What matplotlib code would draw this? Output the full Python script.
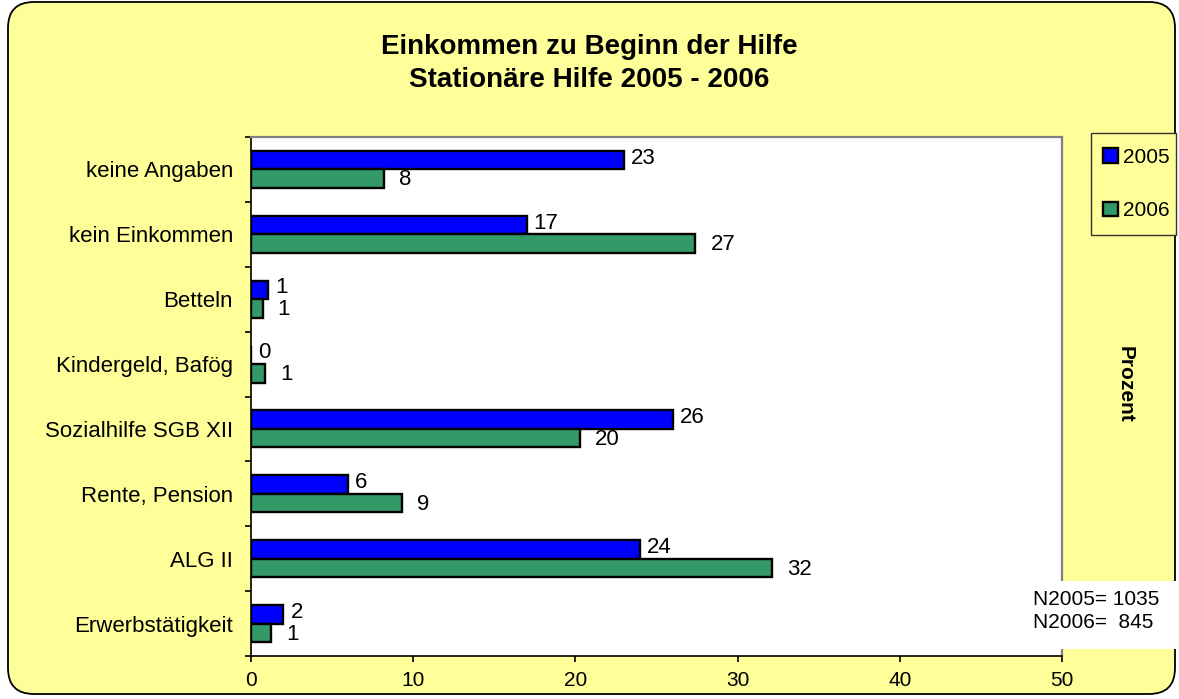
import matplotlib
matplotlib.use("Agg")
import matplotlib.pyplot as plt
from matplotlib.patches import FancyBboxPatch, Rectangle
from matplotlib.transforms import offset_copy
import numpy as np

plt.rcParams['font.family'] = ['Liberation Sans', 'DejaVu Sans']

categories = ["keine Angaben", "kein Einkommen", "Betteln", "Kindergeld, Bafög",
              "Sozialhilfe SGB XII", "Rente, Pension", "ALG II", "Erwerbstätigkeit"]
values_2005 = [23.0, 17.0, 1.05, 0.0, 26.0, 6.0, 24.0, 2.0]
values_2006 = [8.2, 27.4, 0.72, 0.86, 20.26, 9.29, 32.1, 1.23]
series_names = ["2005", "2006"]
xticks = [0, 10, 20, 30, 40, 50]
title_lines = ["Einkommen zu Beginn der Hilfe", "Stationäre Hilfe 2005 - 2006"]
n_text = "N2005= 1035\nN2006=  845"

YELLOW = "#FFFF99"
BLUE = "#0000FF"
GREEN = "#339966"

W, H = 1179, 699
fig = plt.figure(figsize=(W / 100, H / 100), dpi=100)
fig.patch.set_facecolor("white")

# rounded chart frame
frame = FancyBboxPatch((8 / W, 5 / H), (1175 - 8) / W, (697 - 5) / H,
                       boxstyle="round,pad=0,rounding_size=0.022",
                       transform=fig.transFigure, facecolor=YELLOW,
                       edgecolor="black", linewidth=1.3, mutation_aspect=W / H,
                       zorder=-5)
fig.patches.append(frame)

ax = fig.add_axes([251 / W, 1 - 656 / H, (1062 - 251) / W, (656 - 137) / H])
ax.set_facecolor("white")
ax.set_zorder(2)

y = np.arange(len(categories))
bh = 0.285
b1 = ax.barh(y - bh / 2, values_2005, height=bh, color=BLUE, edgecolor="black",
             linewidth=1.7, label=series_names[0])
b2 = ax.barh(y + bh / 2, values_2006, height=bh, color=GREEN, edgecolor="black",
             linewidth=1.7, label=series_names[1])

ax.set_xlim(0, 50)
ax.set_ylim(len(categories) - 0.5, -0.5)
ax.set_xticks(xticks)
ax.set_xticklabels([str(t) for t in xticks], fontsize=15)
ax.set_yticks(y)
ax.set_yticklabels(categories, fontsize=16)
ax.tick_params(axis='y', which='major', length=0, pad=13)
ax.set_yticks(np.arange(len(categories) + 1) - 0.5, minor=True)
ax.tick_params(axis='y', which='minor', length=4.5, width=1.2, direction='out')
ax.tick_params(axis='x', length=4.5, width=1.2, direction='out', pad=6)

for s in ["top", "right"]:
    ax.spines[s].set_color("#808080")
    ax.spines[s].set_linewidth(1.6)
for s in ["left", "bottom"]:
    ax.spines[s].set_color("black")
    ax.spines[s].set_linewidth(1.2)

t1 = offset_copy(ax.transData, fig=fig, x=7, y=0, units='dots')
t2 = offset_copy(ax.transData, fig=fig, x=15, y=0, units='dots')
for yi, v in zip(y, values_2005):
    ax.text(v, yi - bh / 2 - 0.03, f"{v:.0f}", transform=t1, ha='left', va='center', fontsize=16)
for yi, v in zip(y, values_2006):
    ax.text(v, yi + bh / 2 + 0.02, f"{v:.0f}", transform=t2, ha='left', va='center', fontsize=16)

fig.text(0.5, 1 - 47 / H, title_lines[0], ha='center', va='center', fontsize=20, fontweight='bold')
fig.text(0.5, 1 - 80 / H, title_lines[1], ha='center', va='center', fontsize=20, fontweight='bold')

# legend frame drawn separately
fig.patches.append(Rectangle((1091 / W, 1 - 235 / H), (1176 - 1091) / W, (235 - 133) / H,
                             transform=fig.transFigure, facecolor=YELLOW,
                             edgecolor="#333333", linewidth=1.0, zorder=3))
leg = fig.legend(handles=[b1, b2], labels=series_names, loc='center left',
                 bbox_to_anchor=(1099 / W, 1 - 184 / H), fontsize=15,
                 frameon=False, handlelength=0.7, handleheight=0.7,
                 handletextpad=0.25, labelspacing=1.65, borderpad=0.2, borderaxespad=0)
leg.set_zorder(4)

fig.text(1125 / W, 1 - 384 / H, "Prozent", rotation=-90, ha='center', va='center',
         fontsize=15, fontweight='bold')

fig.patches.append(Rectangle((1020 / W, 1 - 649 / H), (1179 - 1020) / W, (649 - 581) / H,
                             transform=fig.transFigure, facecolor='white', edgecolor='none', zorder=5))
fig.text(1033 / W, 1 - 611 / H, n_text, ha='left', va='center', fontsize=15,
         linespacing=1.3, zorder=6)

fig.savefig("out.png", dpi=100, facecolor=fig.get_facecolor())
